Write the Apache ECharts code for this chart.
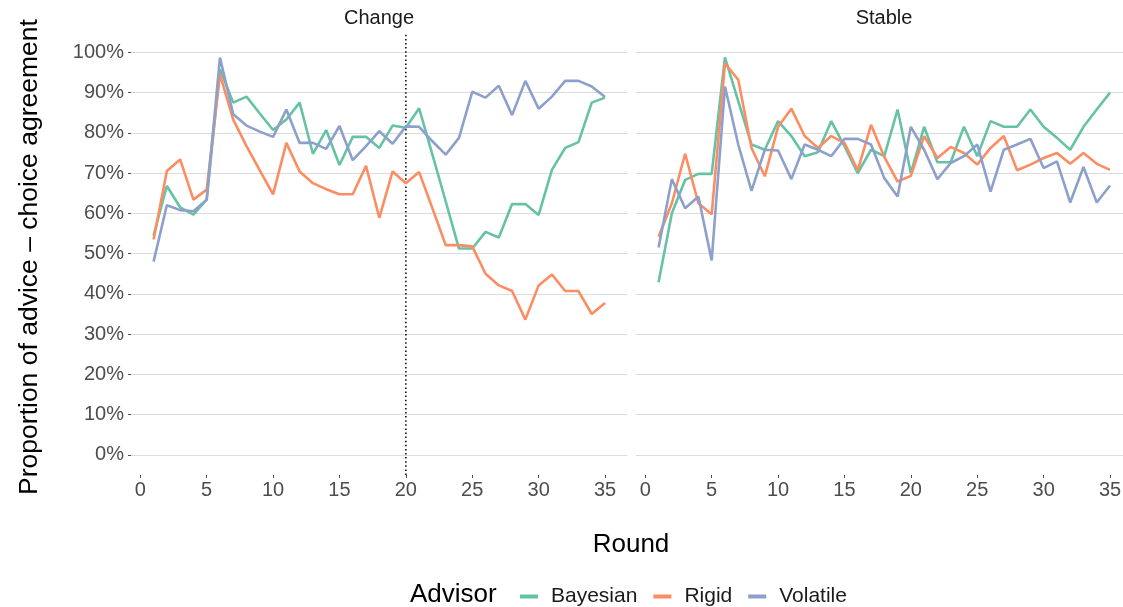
<!DOCTYPE html>
<html>
<head>
<meta charset="utf-8">
<script src="https://cdn.jsdelivr.net/npm/echarts@6/dist/echarts.min.js"></script>
<style>
html,body{margin:0;padding:0;background:#fff;}
#c{width:1123px;height:607px;}
</style>
</head>
<body>
<div id="c"></div>
<script>
const rounds = [1,2,3,4,5,6,7,8,9,10,11,12,13,14,15,16,17,18,19,20,21,22,23,24,25,26,27,28,29,30,31,32,33,34,35];
const xTicks = [0,5,10,15,20,25,30,35];
const yTicks = [0,10,20,30,40,50,60,70,80,90,100];
const panels = ['Change','Stable'];
const advisors = ['Bayesian','Rigid','Volatile'];
const changeRound = 20;

const changeBayesian = [54.5,66.8,61.5,59.7,63.4,95.8,87.5,89,84.8,80.7,83.3,87.5,74.8,80.7,72,79,79,76.25,81.8,81.25,86.1,74.6,63,51.25,51.25,55.4,54,62.3,62.3,59.6,70.8,76.25,77.7,87.5,88.75];
const changeRigid    = [53.5,70.5,73.4,63.4,65.9,94.5,83.3,76.7,70.7,64.7,77.5,70.4,67.5,66,64.75,64.75,71.8,58.9,70.4,67.5,70.25,61.25,52.1,52.1,51.8,45,42.1,40.7,33.6,42.1,44.8,40.7,40.7,35,37.7];
const changeVolatile = [48,62,60.8,60.5,63.4,98.7,84.6,81.8,80.3,79,85.8,77.5,77.5,76,81.7,73.2,76.7,80.4,77.3,81.6,81.5,77.9,74.6,78.75,90.2,88.75,91.7,84.4,92.9,86,89,92.9,92.9,91.5,88.9];

const stableBayesian = [42.9,60,68.3,69.8,69.8,98.75,87.9,77.1,75.8,82.9,79.2,74.2,75.2,82.9,76.7,70,75.8,74.2,85.8,70,81.5,72.7,72.7,81.5,74.2,82.9,81.5,81.5,85.8,81.5,78.75,75.8,81.5,85.8,90];
const stableRigid    = [54.2,62.5,74.8,62.5,59.75,97.3,93.2,76.25,69.2,81.5,86,79.2,76.25,79.2,77.5,70.7,82,74,67.9,69.3,79.2,73.75,76.5,75,72.1,76.25,79.2,70.7,72.1,73.75,75,72.3,75,72.3,70.8];
const stableVolatile = [51.5,68.5,61.25,64.2,48.3,91.5,77.1,65.6,75.8,75.6,68.5,77.1,75.8,74.2,78.5,78.5,77.1,68.75,64.2,81.5,75.8,68.5,72.5,74.2,77.1,65.4,75.8,77.1,78.5,71.25,72.9,62.7,71.5,62.7,66.9];

const colors = {Bayesian:'#66C2A5', Rigid:'#FC8D62', Volatile:'#8DA0CB'};
const FONT = '"Liberation Sans", Arial, Helvetica, sans-serif';

const dataByPanel = [
  [changeBayesian, changeRigid, changeVolatile],
  [stableBayesian, stableRigid, stableVolatile]
];

const chart = echarts.init(document.getElementById('c'), null, {renderer:'canvas'});

const grids = [
  {left:131, top:33, width:496.6, height:442, outerBoundsMode:'none'},
  {left:636, top:33, width:496.6, height:442, outerBoundsMode:'none'}
];

const xAxes = [0,1].map(i => ({
  type:'value', gridIndex:i, min:-0.7, max:36.7, position:'bottom',
  axisLine:{show:false, onZero:false},
  splitLine:{show:false},
  axisTick:{show:true, length:3, customValues:xTicks, lineStyle:{color:'#4d4d4d', width:1}},
  axisLabel:{show:true, customValues:xTicks, margin:5, fontSize:20, color:'#4d4d4d', fontFamily:FONT}
}));

const yAxes = [0,1].map(i => ({
  type:'value', gridIndex:i, min:-5, max:104.8, position:'left',
  axisLine:{show:false, onZero:false},
  splitLine:{show:true, lineStyle:{color:'#dcdcdc', width:1}},
  axisTick:{show:i===0, length:3, customValues:yTicks, lineStyle:{color:'#4d4d4d', width:1}},
  axisLabel:{show:i===0, customValues:yTicks, margin:7, fontSize:20, color:'#4d4d4d', fontFamily:FONT,
    padding:[7,0,0,0], formatter: v => v + '%'}
}));

const series = [];
// dotted change marker in Change panel
series.push({
  type:'line', xAxisIndex:0, yAxisIndex:0, silent:true, showSymbol:false, symbol:'none',
  data:[[changeRound,-5],[changeRound,104.8]],
  lineStyle:{color:'#000', width:1.5, type:[1.5,2.6]}, z:1, tooltip:{show:false}
});
[0,1].forEach(p => {
  advisors.forEach((a, k) => {
    series.push({
      name:a, type:'line', xAxisIndex:p, yAxisIndex:p,
      showSymbol:false, symbol:'none', smooth:false,
      data: rounds.map((r, j) => [r, dataByPanel[p][k][j]]),
      lineStyle:{color:colors[a], width:2.6}, itemStyle:{color:colors[a]},
      z:2+k
    });
  });
});

chart.setOption({
  animation:false,
  backgroundColor:'#fff',
  textStyle:{fontFamily:FONT},
  grid:grids,
  xAxis:xAxes,
  yAxis:yAxes,
  series:series,
  legend:{
    data:advisors, left:515, top:581, orient:'horizontal',
    icon:'rect', itemWidth:18, itemHeight:4, itemGap:16,
    textStyle:{fontSize:21, color:'#1a1a1a', fontFamily:FONT, padding:[0,0,0,8]},
    selectedMode:false
  },
  graphic:[
    {type:'text', x:379, y:18, style:{text:panels[0], font:'20px '+FONT, fill:'#1a1a1a', textAlign:'center', textVerticalAlign:'middle'}},
    {type:'text', x:884, y:18, style:{text:panels[1], font:'20px '+FONT, fill:'#1a1a1a', textAlign:'center', textVerticalAlign:'middle'}},
    {type:'text', x:631, y:545, style:{text:'Round', font:'26px '+FONT, fill:'#000', textAlign:'center', textVerticalAlign:'middle'}},
    {type:'text', x:30, y:257, rotation:Math.PI/2, style:{text:'Proportion of advice \u2013 choice agreement', font:'26.5px '+FONT, fill:'#000', textAlign:'center', textVerticalAlign:'middle'}},
    {type:'text', x:410, y:595, style:{text:'Advisor', font:'26px '+FONT, fill:'#000', textAlign:'left', textVerticalAlign:'middle'}}
  ]
});
</script>
</body>
</html>
